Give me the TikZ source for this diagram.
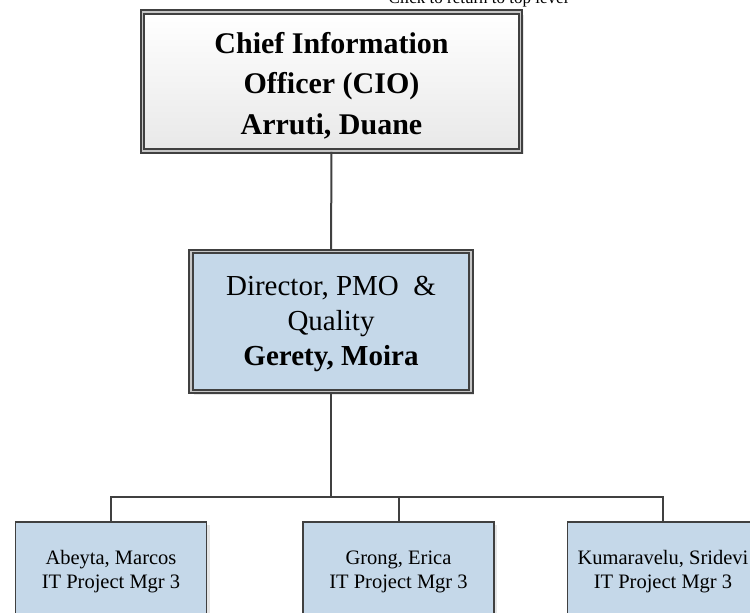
\documentclass[tikz,border=0pt]{standalone}
\usepackage{fontspec}
\setmainfont{Liberation Serif}
\usetikzlibrary{positioning,shadows}
\definecolor{boxblue}{RGB}{197,216,233}
\definecolor{linegray}{RGB}{64,64,64}
\tikzset{
  soft shadow/.style={drop shadow={opacity=0.2, shadow xshift=3pt, shadow yshift=-3pt}},
  double frame/.style={draw=linegray, line width=1.7pt, double=gray!45, double distance=1.8pt, soft shadow},
  chief box/.style={double frame, top color=white, bottom color=gray!18, align=center,
    font=\fontsize{30}{40.5}\selectfont\bfseries},
  director box/.style={double frame, fill=boxblue, align=center,
    font=\fontsize{29}{35}\selectfont},
  staff box/.style={draw=linegray, line width=1.8pt, fill=boxblue, soft shadow, align=center,
    font=\fontsize{20.5}{24}\selectfont, minimum width=191pt, minimum height=100pt, anchor=north},
  link/.style={draw=linegray, line width=2pt},
}

\begin{document}
\begin{tikzpicture}[x=1pt, y=-1pt]
	\useasboundingbox (0,0) rectangle (750,613);
	% top of the chart
	\node[anchor=base west, font=\fontsize{17}{17}\selectfont] (back) at (385,4) {Click to return to top level};
	\node[chief box, minimum width=378pt, minimum height=139pt] (cio) at (331.5,81.5)
		{\rule{0pt}{29pt}Chief Information\\Officer (CIO)\\Arruti, Duane};
	\node[director box, minimum width=280pt, minimum height=140pt] (dir) at (331,321.5)
		{\rule{0pt}{25pt}Director, PMO\ \ \&\\Quality\\\textbf{Gerety, Moira}};
	% project managers
	\node[staff box] (abeyta) at (111,521) {Abeyta, Marcos\\IT Project Mgr 3};
	\node[staff box] (grong) at (398.5,521) {Grong, Erica\\IT Project Mgr 3};
	\node[staff box] (kumar) at (663,521) {Kumaravelu, Sridevi\\IT Project Mgr 3};
	\coordinate (bus) at (331,497);
	\draw[link] (cio) -- (dir);
	\draw[link] (dir) -- (bus);
	\draw[link] (abeyta.north) |- (kumar.north |- bus) -- (kumar.north);
	\draw[link] (grong.north) -- (grong.north |- bus);
\end{tikzpicture}
\end{document}
